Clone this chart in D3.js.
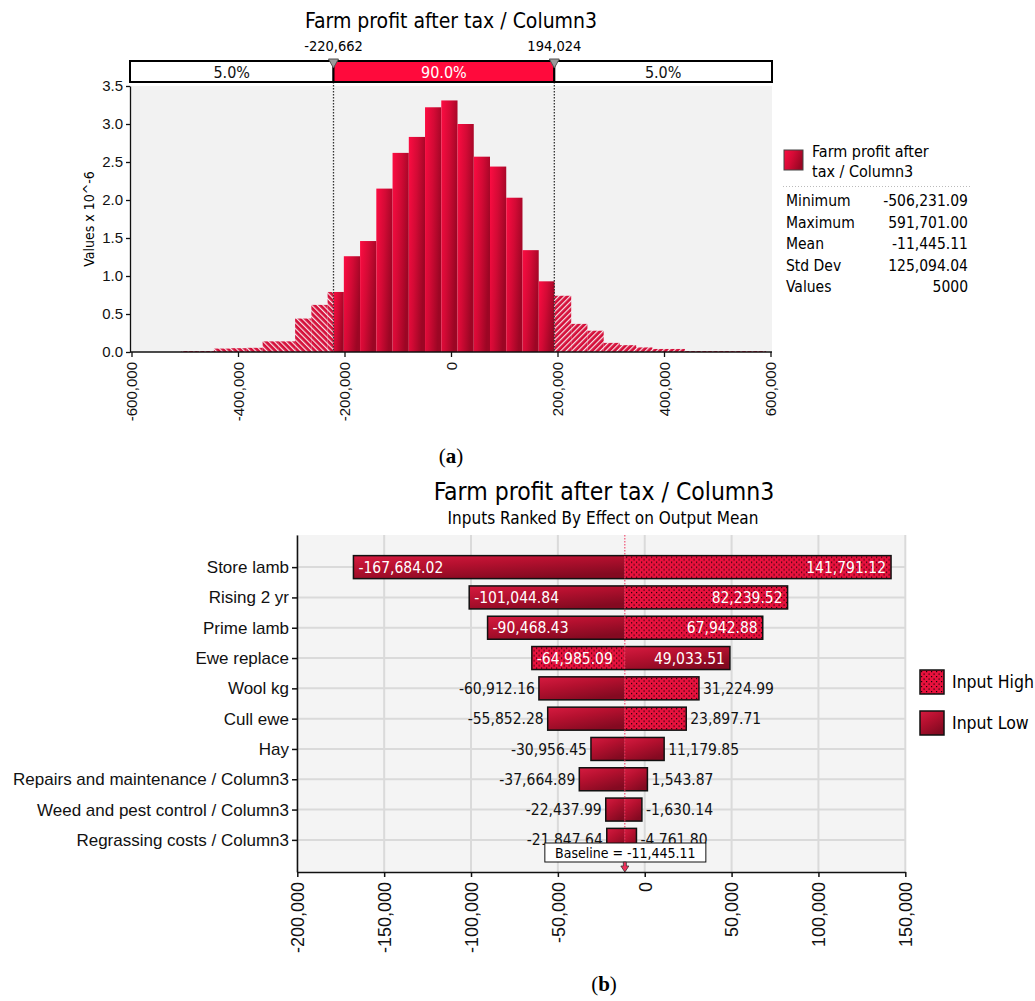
<!DOCTYPE html>
<html>
<head>
<meta charset="utf-8">
<script src="https://cdn.jsdelivr.net/npm/d3@7"></script>
<style>
    body { margin: 0; background: #fff; }
    svg { display: block; font-family: 'DejaVu Sans Condensed', 'DejaVu Sans', sans-serif; }
</style>
</head>
<body>
<svg id="chart" width="1035" height="1001"></svg>
<script>

// ---- data (a) histogram ----

var histTitle = 'Farm profit after tax / Column3';
var binDensity = [ 0.013, 0.013, 0.045, 0.05, 0.055, 0.14, 0.14, 0.44, 0.62, 0.79, 1.26, 1.46, 2.15, 2.62, 2.83, 3.22, 3.31, 3.0,
                   2.57, 2.44, 2.03, 1.34, 0.93, 0.74, 0.37, 0.28, 0.12, 0.09, 0.06, 0.04, 0.04, 0.013, 0.013, 0.013, 0.013, 0.013 ];
var percentiles = [ -220662, 194024 ];
var bandLabels = [ '5.0%', '90.0%', '5.0%' ];
var histTicksX = [ -600000, -400000, -200000, 0, 200000, 400000, 600000 ];
var histTicksY = [ 0, 0.5, 1, 1.5, 2, 2.5, 3, 3.5 ];
var statNames = [ 'Minimum', 'Maximum', 'Mean', 'Std Dev', 'Values' ];
var statValues = [ -506231.09, 591701.00, -11445.11, 125094.04, 5000 ];

// ---- data (b) tornado ----

var tornadoTitle = 'Farm profit after tax / Column3';
var tornadoSubtitle = 'Inputs Ranked By Effect on Output Mean';
var inputNames = [ 'Store lamb', 'Rising 2 yr', 'Prime lamb', 'Ewe replace', 'Wool kg', 'Cull ewe', 'Hay',
                   'Repairs and maintenance / Column3', 'Weed and pest control / Column3', 'Regrassing costs / Column3' ];
var leftValues = [ -167684.02, -101044.84, -90468.43, -64985.09, -60912.16, -55852.28, -30956.45, -37664.89, -22437.99, -21847.64 ];
var rightValues = [ 141791.12, 82239.52, 67942.88, 49033.51, 31224.99, 23897.71, 11179.85, 1543.87, -1630.14, -4761.80 ];
var leftStyle = [ 'low', 'low', 'low', 'high', 'low', 'low', 'low', 'low', 'low', 'low' ];
var rightStyle = [ 'high', 'high', 'high', 'low', 'high', 'high', 'low', 'low', 'low', 'low' ];
var baseline = -11445.11;
var tornadoTicksX = [ -200000, -150000, -100000, -50000, 0, 50000, 100000, 150000 ];
var legendNames = [ 'Input High', 'Input Low' ];

var locale = d3.formatLocale({ decimal: '.', thousands: ',', grouping: [ 3 ], currency: [ '$', '' ], minus: '-' });
var fmtInt = locale.format(',.0f');
var fmt2 = locale.format(',.2f');

var svg = d3.select('#chart');
var defs = svg.append('defs');

/* gradients and patterns */

var grad = defs.append('linearGradient').attr('id', 'histGrad')
    .attr('x1', 0).attr('y1', 0).attr('x2', 1).attr('y2', 0.4);
grad.append('stop').attr('offset', 0).attr('stop-color', '#fd0c42');
grad.append('stop').attr('offset', 0.5).attr('stop-color', '#d30a35');
grad.append('stop').attr('offset', 1).attr('stop-color', '#9c0624');

var lowGrad = defs.append('linearGradient').attr('id', 'lowGrad')
    .attr('x1', 0).attr('y1', 0).attr('x2', 0.6).attr('y2', 1);
lowGrad.append('stop').attr('offset', 0).attr('stop-color', '#d61b40');
lowGrad.append('stop').attr('offset', 0.45).attr('stop-color', '#b5102f');
lowGrad.append('stop').attr('offset', 1).attr('stop-color', '#840a21');

[ [ 'hatchL', -45 ], [ 'hatchR', 45 ] ].forEach( function ( h ) {
    var p = defs.append('pattern').attr('id', h[0])
        .attr('patternUnits', 'userSpaceOnUse')
        .attr('width', 4).attr('height', 4)
        .attr('patternTransform', 'rotate(' + h[1] + ')');
    p.append('rect').attr('width', 4).attr('height', 4).attr('fill', '#d50f3a');
    p.append('rect').attr('width', 1.2).attr('height', 4).attr('fill', '#f6e4e8');
});

var dots = defs.append('pattern').attr('id', 'dots')
    .attr('patternUnits', 'userSpaceOnUse')
    .attr('width', 5).attr('height', 5);
dots.append('rect').attr('width', 5).attr('height', 5).attr('fill', '#e8113d');
dots.append('rect').attr('x', 1).attr('y', 1).attr('width', 1.2).attr('height', 1.2).attr('fill', '#1a0206');
dots.append('rect').attr('x', 3.5).attr('y', 3.5).attr('width', 1.2).attr('height', 1.2).attr('fill', '#1a0206');

var styleFill = { low: 'url(#lowGrad)', high: 'url(#dots)' };

// ---------------- (a) histogram ----------------

var hx = d3.scaleLinear().domain([ -600000, 600000 ]).range([ 131.5, 770.5 ]);
var hy = d3.scaleLinear().domain([ 0, 3.5 ]).range([ 352, 86 ]);

svg.append('text')
    .attr('x', 451).attr('y', 28)
    .attr('text-anchor', 'middle')
    .style('font-size', '21px')
    .text( histTitle );

svg.append('rect')
    .attr('x', 130).attr('y', 86)
    .attr('width', 642).attr('height', 266)
    .attr('fill', '#f2f2f2');

var binWidth = ( statValues[1] - statValues[0] ) / binDensity.length;
var segments = [];

binDensity.forEach( function ( v, i ) {
    var x0 = statValues[0] + i * binWidth;
    var x1 = x0 + binWidth;
    var cuts = [ x0 ];
    percentiles.forEach( function ( p ) { if ( p > x0 && p < x1 ) cuts.push( p ); });
    cuts.push( x1 );
    for ( var k = 0; k < cuts.length - 1; k++ ) {
        var mid = ( cuts[k] + cuts[k + 1] ) / 2;
        var fill = mid < percentiles[0] ? 'url(#hatchL)' : ( mid > percentiles[1] ? 'url(#hatchR)' : 'url(#histGrad)' );
        segments.push({ x0: cuts[k], x1: cuts[k + 1], v: v, fill: fill });
    }
});

svg.append('g').selectAll('rect')
    .data( segments )
    .enter().append('rect')
    .attr('x', function ( d ) { return hx( d.x0 ); })
    .attr('width', function ( d ) { return hx( d.x1 ) - hx( d.x0 ); })
    .attr('y', function ( d ) { return hy( d.v ); })
    .attr('height', function ( d ) { return hy( 0 ) - hy( d.v ); })
    .attr('fill', function ( d ) { return d.fill; });

// percentile lines

svg.append('g').selectAll('line')
    .data( percentiles )
    .enter().append('line')
    .attr('x1', function ( d ) { return hx( d ); })
    .attr('x2', function ( d ) { return hx( d ); })
    .attr('y1', 82).attr('y2', 352)
    .attr('stroke', '#333')
    .attr('stroke-width', 1.3)
    .attr('stroke-dasharray', '1.5,1.5');

// delimiter band

var bandEdges = [ 130, hx( percentiles[0] ), hx( percentiles[1] ), 772 ];
var band = svg.append('g');

band.selectAll('rect')
    .data( bandLabels )
    .enter().append('rect')
    .attr('x', function ( d, i ) { return bandEdges[i]; })
    .attr('width', function ( d, i ) { return bandEdges[i + 1] - bandEdges[i]; })
    .attr('y', 61).attr('height', 21)
    .attr('fill', function ( d, i ) { return i === 1 ? '#ff0a3c' : '#fff'; })
    .attr('stroke', '#000')
    .attr('stroke-width', 2);

band.selectAll('text')
    .data( bandLabels )
    .enter().append('text')
    .attr('x', function ( d, i ) { return ( bandEdges[i] + bandEdges[i + 1] ) / 2; })
    .attr('y', 72).attr('dy', '0.35em')
    .attr('text-anchor', 'middle')
    .style('font-size', '16px')
    .attr('fill', function ( d, i ) { return i === 1 ? '#fff' : '#111'; })
    .text( function ( d ) { return d; });

band.selectAll('path')
    .data( percentiles )
    .enter().append('path')
    .attr('d', function ( d ) { var x = hx( d ); return 'M' + ( x - 5 ) + ',59L' + ( x + 5 ) + ',59L' + x + ',68Z'; })
    .attr('fill', '#9a9a9a')
    .attr('stroke', '#555');

band.selectAll('.plabel')
    .data( percentiles )
    .enter().append('text')
    .attr('class', 'plabel')
    .attr('x', function ( d ) { return hx( d ); })
    .attr('y', 51)
    .attr('text-anchor', 'middle')
    .style('font-size', '14.5px')
    .text( function ( d ) { return fmtInt( d ); });

// axes

var hAxisY = svg.append('g')
    .attr('transform', 'translate(130,0)')
    .call( d3.axisLeft( hy ).tickValues( histTicksY ).tickFormat( d3.format('.1f') ).tickSize( 4 ).tickSizeOuter( 0 ) );
hAxisY.selectAll('text').style('font-size', '15px').attr('fill', '#111');

var hAxisX = svg.append('g')
    .attr('transform', 'translate(0,352)')
    .call( d3.axisBottom( hx ).tickValues( histTicksX ).tickFormat( fmtInt ).tickSize( 5 ).tickSizeOuter( 0 ) );
hAxisX.select('.domain').attr('d', 'M130,0H772');
hAxisX.selectAll('text')
    .style('font-size', '15px')
    .attr('fill', '#111')
    .attr('transform', 'rotate(-90)')
    .attr('text-anchor', 'end')
    .attr('x', -10).attr('y', 0).attr('dy', '0.35em');

[ hAxisX, hAxisY ].forEach( function ( a ) {
    a.selectAll('.domain, line').attr('stroke', '#111').attr('stroke-width', 1.3);
});

svg.append('text')
    .attr('transform', 'translate(94,219) rotate(-90)')
    .attr('text-anchor', 'middle')
    .style('font-size', '14px')
    .text('Values x 10^-6');

// legend (a)

svg.append('rect')
    .attr('x', 784).attr('y', 150)
    .attr('width', 19).attr('height', 20)
    .attr('fill', 'url(#histGrad)')
    .attr('stroke', '#444');

svg.append('text')
    .attr('x', 812).attr('y', 157)
    .style('font-size', '16px')
    .selectAll('tspan')
    .data([ 'Farm profit after', 'tax / Column3' ])
    .enter().append('tspan')
    .attr('x', 812)
    .attr('dy', function ( d, i ) { return i ? 20 : 0; })
    .text( function ( d ) { return d; });

svg.append('line')
    .attr('x1', 783).attr('x2', 970)
    .attr('y1', 186.5).attr('y2', 186.5)
    .attr('stroke', '#bbb')
    .attr('stroke-dasharray', '1,2');

var statRows = svg.append('g').selectAll('g')
    .data( statNames )
    .enter().append('g')
    .attr('transform', function ( d, i ) { return 'translate(0,' + ( 201 + i * 21.5 ) + ')'; });

statRows.append('text')
    .attr('x', 786).attr('dy', '0.35em')
    .style('font-size', '15.5px')
    .text( function ( d ) { return d; });

statRows.append('text')
    .attr('x', 968).attr('dy', '0.35em')
    .attr('text-anchor', 'end')
    .style('font-size', '15.5px')
    .text( function ( d, i ) { return i === 4 ? statValues[i] : fmt2( statValues[i] ); });

var capA = svg.append('text')
    .attr('x', 451).attr('y', 463)
    .attr('text-anchor', 'middle')
    .style('font-family', 'Liberation Serif, serif')
    .style('font-size', '21px');
capA.append('tspan').text('(');
capA.append('tspan').style('font-weight', 'bold').text('a');
capA.append('tspan').text(')');

// ---------------- (b) tornado ----------------

var tx = d3.scaleLinear().domain([ -200000, 150000 ]).range([ 297.3, 905.3 ]);
var ty = d3.scalePoint().domain( inputNames ).range([ 535, 872 ]).padding( 1.06 );
var barH = 23;

svg.append('text')
    .attr('x', 604).attr('y', 500)
    .attr('text-anchor', 'middle')
    .style('font-size', '24.5px')
    .text( tornadoTitle );

svg.append('text')
    .attr('x', 603).attr('y', 524)
    .attr('text-anchor', 'middle')
    .style('font-size', '17px')
    .text( tornadoSubtitle );

svg.append('rect')
    .attr('x', 297).attr('y', 535)
    .attr('width', 608).attr('height', 337)
    .attr('fill', '#f4f4f4');

var grid = svg.append('g')
    .attr('stroke', '#dadada')
    .attr('stroke-width', 2);

grid.selectAll('.gx')
    .data( tornadoTicksX )
    .enter().append('line')
    .attr('class', 'gx')
    .attr('x1', function ( d ) { return tx( d ); })
    .attr('x2', function ( d ) { return tx( d ); })
    .attr('y1', 535).attr('y2', 872);

grid.selectAll('.gy')
    .data( inputNames )
    .enter().append('line')
    .attr('class', 'gy')
    .attr('x1', 297).attr('x2', 905)
    .attr('y1', function ( d ) { return ty( d ); })
    .attr('y2', function ( d ) { return ty( d ); });

var rows = svg.append('g').selectAll('g')
    .data( inputNames )
    .enter().append('g')
    .attr('transform', function ( d ) { return 'translate(0,' + ( ty( d ) - barH / 2 ) + ')'; });

rows.append('rect')
    .attr('x', function ( d, i ) { return tx( leftValues[i] ); })
    .attr('width', function ( d, i ) { return tx( baseline ) - tx( leftValues[i] ); })
    .attr('height', barH)
    .attr('fill', function ( d, i ) { return styleFill[ leftStyle[i] ]; });

rows.append('rect')
    .attr('x', tx( baseline ))
    .attr('width', function ( d, i ) { return tx( rightValues[i] ) - tx( baseline ); })
    .attr('height', barH)
    .attr('fill', function ( d, i ) { return styleFill[ rightStyle[i] ]; });

rows.append('rect')
    .attr('x', function ( d, i ) { return tx( leftValues[i] ); })
    .attr('width', function ( d, i ) { return tx( rightValues[i] ) - tx( leftValues[i] ); })
    .attr('height', barH)
    .attr('fill', 'none')
    .attr('stroke', '#111')
    .attr('stroke-width', 1.5);

function inside ( i ) { return rightValues[i] - leftValues[i] > 100000; }

rows.append('text')
    .attr('x', function ( d, i ) { return inside( i ) ? tx( leftValues[i] ) + 5 : tx( leftValues[i] ) - 4; })
    .attr('y', barH / 2).attr('dy', '0.36em')
    .attr('text-anchor', function ( d, i ) { return inside( i ) ? 'start' : 'end'; })
    .attr('fill', function ( d, i ) { return inside( i ) ? '#fff' : '#111'; })
    .style('font-size', '15.5px')
    .text( function ( d, i ) { return fmt2( leftValues[i] ); });

rows.append('text')
    .attr('x', function ( d, i ) { return inside( i ) ? tx( rightValues[i] ) - 5 : tx( rightValues[i] ) + 4; })
    .attr('y', barH / 2).attr('dy', '0.36em')
    .attr('text-anchor', function ( d, i ) { return inside( i ) ? 'end' : 'start'; })
    .attr('fill', function ( d, i ) { return inside( i ) ? '#fff' : '#111'; })
    .style('font-size', '15.5px')
    .text( function ( d, i ) { return fmt2( rightValues[i] ); });

// baseline

svg.append('line')
    .attr('x1', tx( baseline )).attr('x2', tx( baseline ))
    .attr('y1', 535).attr('y2', 866)
    .attr('stroke', '#f0305a')
    .attr('stroke-width', 1)
    .attr('stroke-dasharray', '1.5,1.5');

svg.append('rect')
    .attr('x', tx( baseline ) - 80).attr('y', 843)
    .attr('width', 161).attr('height', 19)
    .attr('fill', '#fff')
    .attr('stroke', '#111');

svg.append('text')
    .attr('x', tx( baseline ) + 0.5).attr('y', 852.5).attr('dy', '0.36em')
    .attr('text-anchor', 'middle')
    .style('font-size', '14px')
    .text('Baseline = ' + fmt2( baseline ));

svg.append('path')
    .attr('d', 'M' + ( tx( baseline ) - 1.5 ) + ',862V866H' + ( tx( baseline ) - 4 ) + 'L' + tx( baseline ) + ',872L' + ( tx( baseline ) + 4 ) + ',866H' + ( tx( baseline ) + 1.5 ) + 'V862Z')
    .attr('fill', '#f0305a')
    .attr('stroke', '#333')
    .attr('stroke-width', 0.8);

// axes

var tAxisY = svg.append('g')
    .attr('transform', 'translate(297,0)')
    .call( d3.axisLeft( ty ).tickSize( 5 ).tickSizeOuter( 0 ) );
tAxisY.selectAll('text').style('font-size', '17px').attr('fill', '#111');

var tAxisX = svg.append('g')
    .attr('transform', 'translate(0,872)')
    .call( d3.axisBottom( tx ).tickValues( tornadoTicksX ).tickFormat( fmtInt ).tickSize( 5 ).tickSizeOuter( 0 ) );
tAxisX.selectAll('text')
    .style('font-size', '18px')
    .attr('fill', '#111')
    .attr('transform', 'rotate(-90)')
    .attr('text-anchor', 'end')
    .attr('x', -10).attr('y', 0).attr('dy', '0.35em');

[ tAxisX, tAxisY ].forEach( function ( a ) {
    a.selectAll('.domain, line').attr('stroke', '#111').attr('stroke-width', 1.5);
});

// legend (b)

var leg = svg.append('g').selectAll('g')
    .data( legendNames )
    .enter().append('g')
    .attr('transform', function ( d, i ) { return 'translate(920,' + ( 670 + i * 41 ) + ')'; });

leg.append('rect')
    .attr('width', 24).attr('height', 24)
    .attr('fill', function ( d, i ) { return i ? 'url(#lowGrad)' : 'url(#dots)'; })
    .attr('stroke', '#111')
    .attr('stroke-width', 1.5);

leg.append('text')
    .attr('x', 32).attr('y', 12).attr('dy', '0.36em')
    .style('font-size', '17.5px')
    .text( function ( d ) { return d; });

var capB = svg.append('text')
    .attr('x', 604).attr('y', 991)
    .attr('text-anchor', 'middle')
    .style('font-family', 'Liberation Serif, serif')
    .style('font-size', '21px');
capB.append('tspan').text('(');
capB.append('tspan').style('font-weight', 'bold').text('b');
capB.append('tspan').text(')');

</script>
</body>
</html>
